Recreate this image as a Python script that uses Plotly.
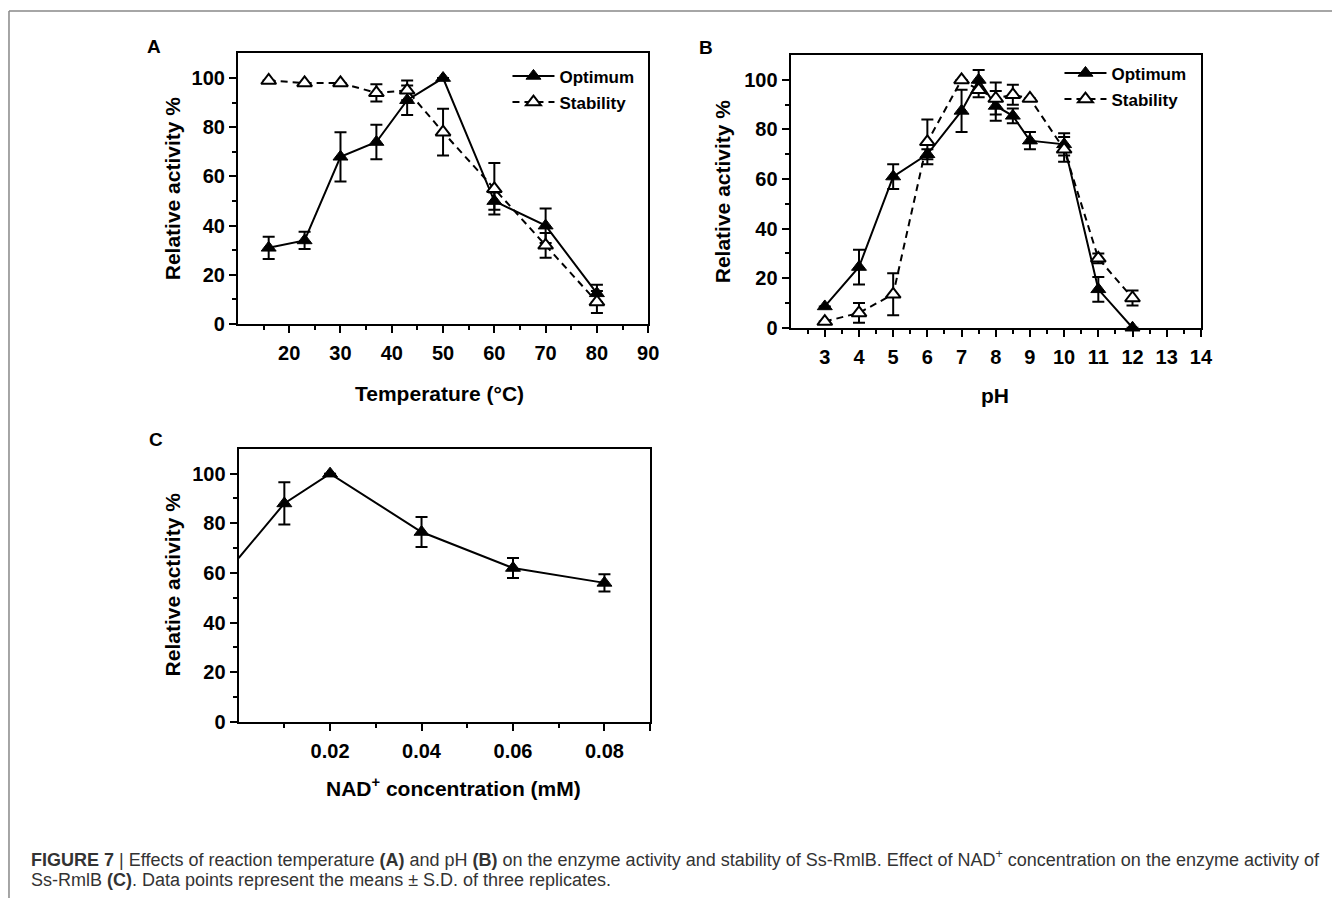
import plotly.graph_objects as go

# ---------------- data ----------------
temp = [16, 23, 30, 37, 43, 50, 60, 70, 80]
temp_opt = [31, 34, 68, 74, 91, 100, 50, 40, 12.5]
temp_opt_sd = [4.5, 3.5, 10, 7, 6, None, 3.5, 7, 3.5]
temp_stab = [99, 98, 98, 94, 95, 78, 55, 32, 9]
temp_stab_sd = [None, None, None, 3.5, 4, 9.5, 10.5, 5, 4.5]

ph = [3, 4, 5, 6, 7, 7.5, 8, 8.5, 9, 10, 11, 12]
ph_opt = [8.6, 24.5, 61, 70, 87.5, 100, 89.5, 85.5, 75.5, 74, 15.5, 0]
ph_opt_sd = [None, 7, 5, 2, 8.5, 4, 6, 3, 3.5, 4.5, 5, None]
ph_stab = [2.5, 6, 13.5, 75, 100, 96, 92.5, 94, 92.5, 72, 28, 12]
ph_stab_sd = [None, 4, 8.5, 9, None, 3, 6.5, 4, None, 5, 2, 3]

nad = [0, 0.01, 0.02, 0.04, 0.06, 0.08]
nad_act = [66, 88, 100, 76.5, 62, 56]
nad_sd = [None, 8.5, None, 6, 4, 3.5]

y_ticks = [0, 20, 40, 60, 80, 100]
y_minor = [10, 30, 50, 70, 90]
temp_ticks = [20, 30, 40, 50, 60, 70, 80, 90]
temp_minor = [15, 25, 35, 45, 55, 65, 75, 85]
ph_ticks = [3, 4, 5, 6, 7, 8, 9, 10, 11, 12, 13, 14]
ph_minor = [2.5, 3.5, 4.5, 5.5, 6.5, 7.5, 8.5, 9.5, 10.5, 11.5, 12.5, 13.5]
nad_ticks = [0.02, 0.04, 0.06, 0.08, 0.09]
nad_ticktext = ["0.02", "0.04", "0.06", "0.08", ""]
nad_minor = [0.01, 0.03, 0.05, 0.07]

# the page body keeps its default 8px margin, so the figure is 8px smaller
# and all screen positions below are shifted by that margin
OFF = 8
W, H = 1344 - OFF, 909 - OFF
FONT = "Liberation Sans, Arial, Helvetica, sans-serif"


def px_x(p):
    return (p - OFF) / W


def px_y(p):
    return 1 - (p - OFF) / H


fig = go.Figure()

marker_filled = dict(symbol="triangle-up", size=13, color="black", line=dict(color="black", width=1))
marker_open = dict(symbol="triangle-up", size=13, color="white", line=dict(color="black", width=2))
err = dict(type="data", color="black", thickness=2, width=6)


def add_pair(x, y1, e1, y2, e2, xa, ya, legend):
    fig.add_trace(go.Scatter(
        x=x, y=y1, mode="lines+markers", name="Optimum",
        line=dict(color="black", width=2), marker=marker_filled,
        error_y=dict(array=e1, **err), xaxis=xa, yaxis=ya,
        legend=legend, legendgroup=legend + "a", cliponaxis=False))
    fig.add_trace(go.Scatter(
        x=x, y=y2, mode="lines+markers", name="Stability",
        line=dict(color="black", width=2, dash="7px,5px"), marker=marker_open,
        error_y=dict(array=e2, **err), xaxis=xa, yaxis=ya,
        legend=legend, legendgroup=legend + "b", cliponaxis=False))


add_pair(temp, temp_opt, temp_opt_sd, temp_stab, temp_stab_sd, "x", "y", "legend")
add_pair(ph, ph_opt, ph_opt_sd, ph_stab, ph_stab_sd, "x2", "y2", "legend2")

# panel C
fig.add_trace(go.Scatter(
    x=nad, y=nad_act, mode="lines", line=dict(color="black", width=2),
    xaxis="x3", yaxis="y3", showlegend=False))
fig.add_trace(go.Scatter(
    x=nad[1:], y=nad_act[1:], mode="markers", marker=marker_filled,
    error_y=dict(array=nad_sd[1:], **err),
    xaxis="x3", yaxis="y3", showlegend=False, cliponaxis=False))

tickfont = dict(family=FONT, size=20, color="black", weight="bold")


def axis_common():
    return dict(showline=True, linewidth=2, linecolor="black", mirror=True,
                ticks="outside", ticklen=7, tickwidth=2, tickcolor="black",
                showgrid=False, zeroline=False, tickfont=tickfont,
                fixedrange=True)


def yax(dom, anchor):
    d = axis_common()
    d.update(domain=dom, anchor=anchor, range=[0, 110], tickvals=y_ticks,
             minor=dict(tickvals=y_minor, ticks="outside", ticklen=4, tickwidth=2,
                        tickcolor="black", showgrid=False))
    return d


def xax(dom, anchor, rng, tv, mv, tt=None):
    d = axis_common()
    d.update(domain=dom, anchor=anchor, range=rng, tickvals=tv,
             ticklabelstandoff=3,
             minor=dict(tickvals=mv, ticks="outside", ticklen=4, tickwidth=2,
                        tickcolor="black", showgrid=False))
    if tt is not None:
        d["ticktext"] = tt
    return d


legend_font = dict(family=FONT, size=17, color="black", weight="bold")

fig.update_layout(
    width=W, height=H,
    margin=dict(l=0, r=0, t=0, b=0),
    paper_bgcolor="white", plot_bgcolor="white",
    font=dict(family=FONT, color="black"),
    xaxis=xax([px_x(240), px_x(654)], "y", [10, 90], temp_ticks, temp_minor),
    yaxis=yax([px_y(328), px_y(54)], "x"),
    xaxis2=xax([px_x(797.7), px_x(1211.7)], "y2", [2, 14], ph_ticks, ph_minor),
    yaxis2=yax([px_y(331.7), px_y(55.7)], "x2"),
    xaxis3=xax([px_x(240.7), px_x(656)], "y3", [0, 0.09], nad_ticks, nad_minor, nad_ticktext),
    yaxis3=yax([px_y(730.7), px_y(454.3)], "x3"),
    legend=dict(x=px_x(512), y=px_y(59), xanchor="left", yanchor="top",
                font=legend_font, bgcolor="rgba(0,0,0,0)", traceorder="grouped",
                tracegroupgap=1, itemwidth=42),
    legend2=dict(x=px_x(1069), y=px_y(56), xanchor="left", yanchor="top",
                 font=legend_font, bgcolor="rgba(0,0,0,0)", traceorder="grouped",
                 tracegroupgap=1, itemwidth=42),
)

ann = []
title_font = dict(family=FONT, size=21, color="black", weight="bold")
for (x, y, t) in [(174, 191, "Relative activity %"), (729, 194, "Relative activity %"),
                  (174, 592, "Relative activity %")]:
    ann.append(dict(x=px_x(x), y=px_y(y), xref="paper", yref="paper", text=t,
                    textangle=-90, showarrow=False, font=title_font,
                    xanchor="center", yanchor="middle"))
for (x, y, t) in [(443, 398, "Temperature (°C)"), (1004, 400, "pH"),
                  (458, 797, "NAD<sup>+</sup> concentration (mM)")]:
    ann.append(dict(x=px_x(x), y=px_y(y), xref="paper", yref="paper", text=t,
                    showarrow=False, font=title_font, xanchor="center", yanchor="middle"))
letter_font = dict(family=FONT, size=19, color="black", weight="bold")
for (x, y, t) in [(155, 47, "A"), (712, 48, "B"), (157, 445, "C")]:
    ann.append(dict(x=px_x(x), y=px_y(y), xref="paper", yref="paper", text=t,
                    showarrow=False, font=letter_font, xanchor="center", yanchor="middle"))

cap_font = dict(family=FONT, size=18, color="#333333")
ann.append(dict(x=px_x(29), y=px_y(869), xref="paper", yref="paper", xanchor="left",
                yanchor="middle", showarrow=False, font=cap_font,
                text="<b>FIGURE 7</b> | Effects of reaction temperature <b>(A)</b> and pH <b>(B)</b> on the "
                     "enzyme activity and stability of Ss-RmlB. Effect of NAD<sup>+</sup> concentration "
                     "on the enzyme activity of"))
ann.append(dict(x=px_x(29), y=px_y(891), xref="paper", yref="paper", xanchor="left",
                yanchor="middle", showarrow=False, font=cap_font,
                text="Ss-RmlB <b>(C)</b>. Data points represent the means ± S.D. of three replicates."))
fig.update_layout(annotations=ann)

fig.update_layout(shapes=[
    dict(type="line", xref="paper", yref="paper", x0=px_x(9), x1=1, y0=px_y(11), y1=px_y(11),
         line=dict(color="#888888", width=1.5)),
    dict(type="line", xref="paper", yref="paper", x0=px_x(9), x1=px_x(9), y0=px_y(11), y1=0,
         line=dict(color="#888888", width=1.5)),
])

fig.write_html("out.html", config={"displayModeBar": False})
